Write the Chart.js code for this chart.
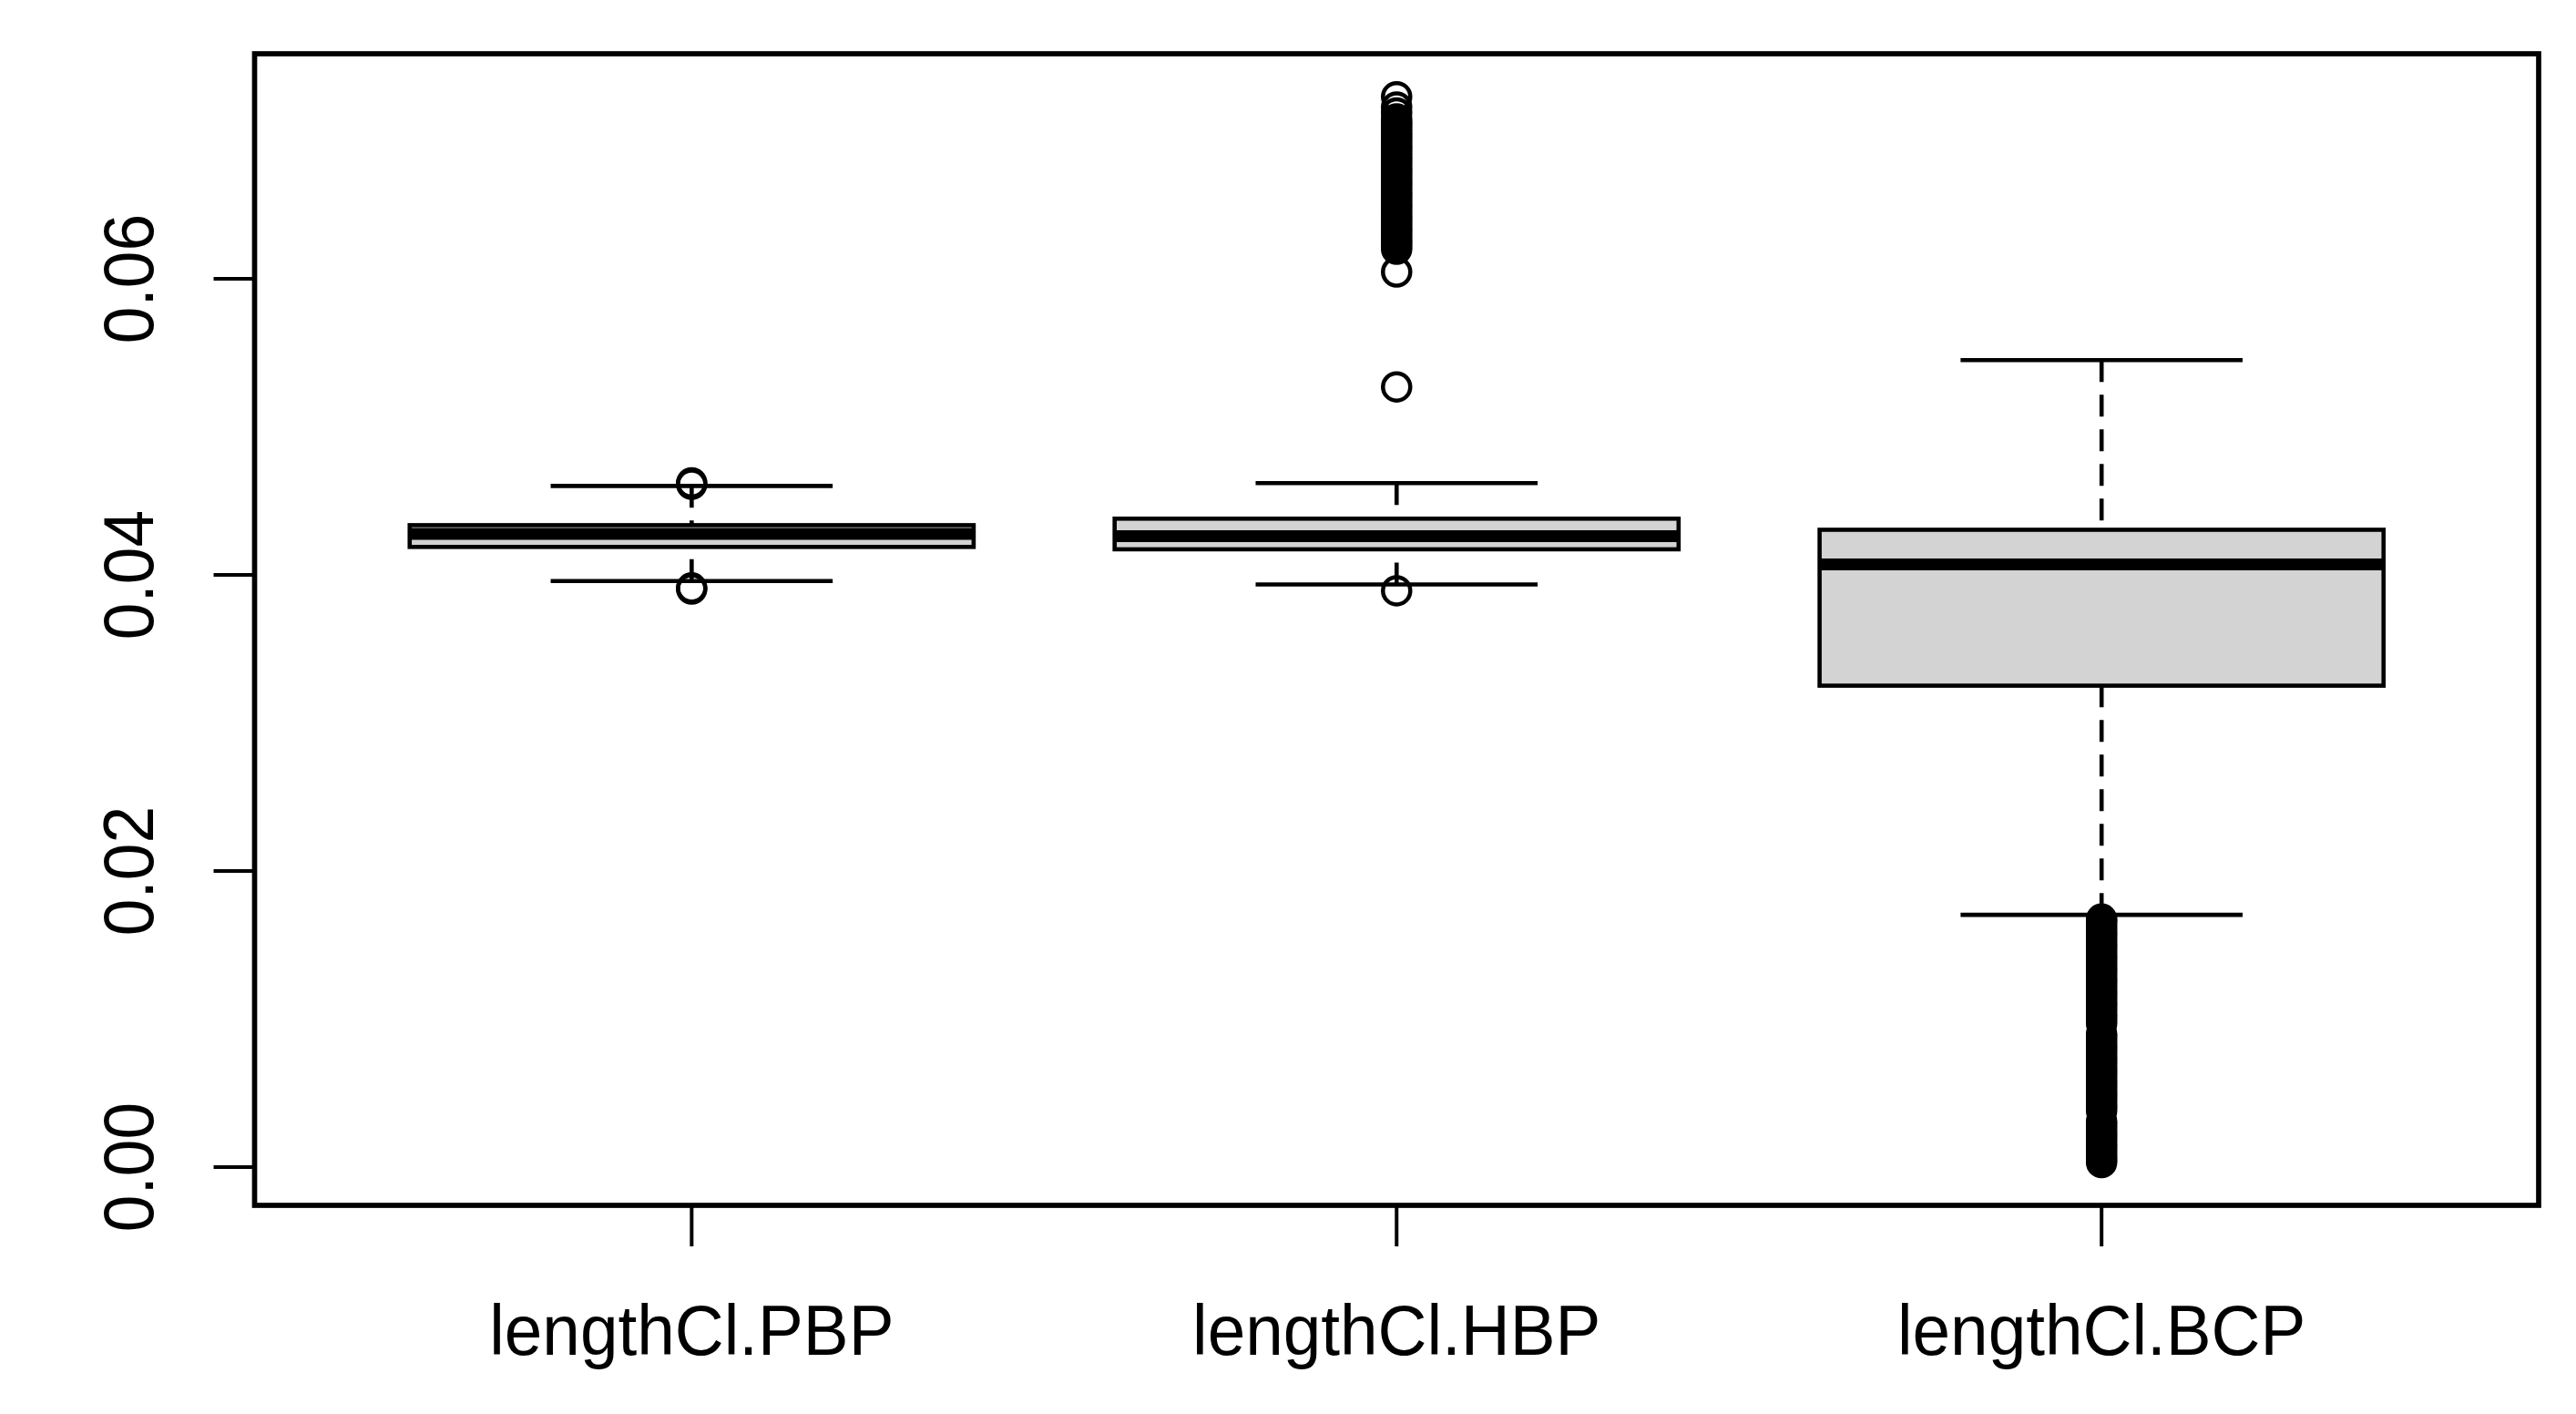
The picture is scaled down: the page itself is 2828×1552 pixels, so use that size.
<!DOCTYPE html>
<html>
<head>
<meta charset="utf-8">
<script src="https://cdn.jsdelivr.net/npm/chart.js@4.4.1/dist/chart.umd.min.js"></script>
<style>
  html, body { margin: 0; padding: 0; background: #ffffff; }
  canvas { display: block; }
</style>
</head>
<body>
<canvas id="boxChart" width="2828" height="1552"></canvas>
<script>
// box statistics, one entry per group
const categories = ['lengthCl.PBP', 'lengthCl.HBP', 'lengthCl.BCP'];
const whiskerLow = [0.03959, 0.03936, 0.01704];
const q1 = [0.04189, 0.04173, 0.03252];
const median = [0.04277, 0.04261, 0.04071];
const q3 = [0.04336, 0.04380, 0.04305];
const whiskerHigh = [0.04601, 0.04620, 0.05451];

// outliers
const outPBP = [0.04622, 0.04612, 0.03912, 0.03905];
const outHBP = [0.03893, 0.05270, 0.06046,
    0.0620, 0.0622, 0.0624, 0.0626, 0.0628, 0.0630, 0.0632, 0.0634, 0.0636, 0.0638,
    0.0640, 0.0642, 0.0644, 0.0646, 0.0648, 0.0650, 0.0652, 0.0654, 0.0656, 0.0658,
    0.0660, 0.0662, 0.0664, 0.0666, 0.0668, 0.0670, 0.0672, 0.0674, 0.0676, 0.0678,
    0.0680, 0.0682, 0.0684, 0.0686, 0.0688, 0.0690, 0.0692, 0.0694, 0.0696, 0.0698,
    0.0700, 0.0702, 0.0704, 0.0706, 0.0708, 0.0712, 0.0716, 0.0723];
const outBCP = [0.00031, 0.0005, 0.0007, 0.0009, 0.0011, 0.0013, 0.0015, 0.0017, 0.0019,
    0.0021, 0.0023, 0.0025, 0.0027, 0.0029, 0.0031,
    0.0038, 0.0040, 0.0042, 0.0044, 0.0046, 0.0048, 0.0050, 0.0052, 0.0054, 0.0056,
    0.0058, 0.0060, 0.0062, 0.0064, 0.0066, 0.0068, 0.0070, 0.0072, 0.0074, 0.0076,
    0.0078, 0.0080, 0.0082, 0.0084, 0.0086, 0.0088, 0.0090,
    0.0097, 0.0099, 0.0101, 0.0103, 0.0105, 0.0107, 0.0109, 0.0111, 0.0113, 0.0115,
    0.0117, 0.0119, 0.0121, 0.0123, 0.0125, 0.0127, 0.0129, 0.0131, 0.0133, 0.0135,
    0.0137, 0.0139, 0.0141, 0.0143, 0.0145, 0.0147, 0.0149, 0.0151, 0.0153, 0.0155,
    0.0157, 0.0159, 0.0161, 0.0163, 0.0165, 0.0167, 0.01675];
const outliers = [outPBP, outHBP, outBCP];

const yTicks = [0.00, 0.02, 0.04, 0.06];
const yTickLabels = ['0.00', '0.02', '0.04', '0.06'];

const BOX_HALF = 0.4;     // boxwex 0.8
const STAPLE_HALF = 0.2;  // staplewex 0.5
const FONT = '77px "Liberation Sans", Arial, sans-serif';

const rBoxplot = {
    id: 'rBoxplot',
    beforeDatasetsDraw(chart) {
        const { ctx, scales: { x, y } } = chart;
        ctx.save();
        ctx.strokeStyle = '#000000';
        ctx.lineCap = 'butt';
        categories.forEach((cat, i) => {
            const cx = x.getPixelForValue(i + 1);
            const bl = x.getPixelForValue(i + 1 - BOX_HALF);
            const br = x.getPixelForValue(i + 1 + BOX_HALF);
            const sl = x.getPixelForValue(i + 1 - STAPLE_HALF);
            const sr = x.getPixelForValue(i + 1 + STAPLE_HALF);
            const yLo = y.getPixelForValue(whiskerLow[i]);
            const yQ1 = y.getPixelForValue(q1[i]);
            const yMed = y.getPixelForValue(median[i]);
            const yQ3 = y.getPixelForValue(q3[i]);
            const yHi = y.getPixelForValue(whiskerHigh[i]);

            // dashed whiskers, drawn from the whisker end to the box
            ctx.lineWidth = 4.6;
            ctx.setLineDash([24, 14]);
            ctx.beginPath();
            ctx.moveTo(cx, yHi); ctx.lineTo(cx, yQ3);
            ctx.moveTo(cx, yLo); ctx.lineTo(cx, yQ1);
            ctx.stroke();
            ctx.setLineDash([]);

            // staples
            ctx.beginPath();
            ctx.moveTo(sl, yHi); ctx.lineTo(sr, yHi);
            ctx.moveTo(sl, yLo); ctx.lineTo(sr, yLo);
            ctx.stroke();

            // box
            ctx.fillStyle = '#d3d3d3';
            ctx.fillRect(bl, yQ3, br - bl, yQ1 - yQ3);
            ctx.strokeRect(bl, yQ3, br - bl, yQ1 - yQ3);

            // median
            ctx.lineWidth = 13;
            ctx.beginPath();
            ctx.moveTo(bl, yMed); ctx.lineTo(br, yMed);
            ctx.stroke();
        });
        ctx.restore();
    },
    afterDraw(chart) {
        const { ctx, chartArea: a, scales: { x, y } } = chart;
        ctx.save();
        ctx.strokeStyle = '#000000';
        ctx.fillStyle = '#000000';

        // frame
        ctx.lineWidth = 5.7;
        ctx.strokeRect(a.left, a.top, a.right - a.left, a.bottom - a.top);

        // ticks
        ctx.lineWidth = 4;
        ctx.beginPath();
        yTicks.forEach(v => {
            const py = y.getPixelForValue(v);
            ctx.moveTo(a.left, py); ctx.lineTo(a.left - 45, py);
        });
        categories.forEach((c, i) => {
            const px = x.getPixelForValue(i + 1);
            ctx.moveTo(px, a.bottom); ctx.lineTo(px, a.bottom + 45);
        });
        ctx.stroke();

        // labels
        ctx.font = FONT;
        ctx.textAlign = 'center';
        ctx.textBaseline = 'alphabetic';
        yTicks.forEach((v, i) => {
            ctx.save();
            ctx.translate(168, y.getPixelForValue(v));
            ctx.rotate(-Math.PI / 2);
            ctx.scale(0.95, 1);
            ctx.fillText(yTickLabels[i], 0, 0);
            ctx.restore();
        });
        categories.forEach((c, i) => {
            ctx.save();
            ctx.translate(x.getPixelForValue(i + 1), 1487);
            ctx.scale(0.97, 1);
            ctx.fillText(c, 0, 0);
            ctx.restore();
        });
        ctx.restore();
    }
};

const datasets = outliers.map((vals, i) => ({
    label: categories[i],
    data: vals.map(v => ({ x: i + 1, y: v })),
    pointStyle: 'circle',
    pointRadius: 15,
    pointBorderWidth: 4.5,
    pointBorderColor: '#000000',
    pointBackgroundColor: 'rgba(0,0,0,0)',
    showLine: false,
    clip: false
}));

new Chart(document.getElementById('boxChart'), {
    type: 'scatter',
    data: { datasets },
    options: {
        responsive: false,
        devicePixelRatio: 1,
        animation: false,
        layout: { padding: { left: 279.5, top: 59, right: 41, bottom: 229 } },
        plugins: {
            legend: { display: false },
            tooltip: { enabled: false }
        },
        scales: {
            x: { type: 'linear', min: 0.38, max: 3.62, display: false },
            y: { type: 'linear', min: -0.00258, max: 0.0752, display: false }
        }
    },
    plugins: [rBoxplot]
});
</script>
</body>
</html>
